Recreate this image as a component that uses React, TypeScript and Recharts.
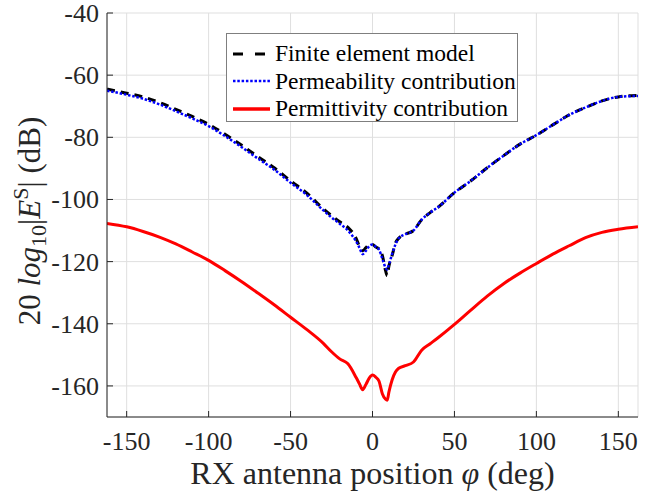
import { LineChart, Line, XAxis, YAxis, CartesianGrid, Legend, Label } from 'recharts';

// RX angle (deg)
const phi = [-162, -150, -140, -130, -120, -110, -100, -90, -80, -70, -60, -50, -40, -30, -25, -20, -15, -10, -8, -6, -4, -2, 0, 2, 4, 6, 8, 9, 10, 12, 14, 16, 20, 25, 30, 35, 40, 50, 60, 70, 80, 90, 100, 110, 120, 130, 140, 150, 162];

const femModel = [-64.5, -65.8, -67.0, -68.8, -71.0, -73.3, -75.8, -79.0, -82.5, -86.2, -89.8, -94.0, -98.0, -103.0, -105.2, -107.2, -109.0, -112.5, -115.0, -116.5, -115.5, -114.5, -114.5, -115.3, -116.0, -118.0, -123.0, -124.5, -121.5, -118.0, -114.0, -112.5, -111.2, -110.0, -106.5, -104.3, -102.5, -97.8, -94.0, -89.8, -85.9, -82.2, -79.3, -76.0, -72.8, -70.4, -68.3, -67.0, -66.5];

const permeability = [-65.0, -66.3, -67.6, -69.4, -71.6, -73.9, -76.4, -79.6, -83.1, -86.8, -90.4, -94.6, -98.6, -103.5, -105.8, -107.8, -110.0, -113.5, -115.5, -117.6, -116.5, -115.0, -114.5, -115.2, -116.2, -119.0, -122.0, -122.5, -121.0, -117.5, -114.5, -112.5, -111.2, -110.0, -106.5, -104.3, -102.5, -97.8, -94.0, -89.8, -85.9, -82.2, -79.3, -76.0, -72.8, -70.4, -68.3, -67.0, -66.7];

const permittivity = [-107.7, -108.8, -110.3, -112.1, -114.3, -116.9, -119.6, -122.9, -126.4, -130.1, -133.9, -137.9, -141.9, -146.3, -149.0, -151.3, -152.9, -157.3, -159.3, -161.2, -159.5, -157.5, -156.5, -157.2, -158.5, -162.5, -164.3, -164.6, -162.0, -158.0, -155.5, -154.3, -153.5, -152.3, -148.5, -146.5, -144.5, -140.2, -135.6, -131.1, -127.1, -123.7, -120.6, -117.6, -114.9, -112.3, -110.6, -109.6, -108.8];

const xTicks = [-150, -100, -50, 0, 50, 100, 150];
const yTicks = [-160, -140, -120, -100, -80, -60, -40];

const seriesNames = ['Finite element model', 'Permeability contribution', 'Permittivity contribution'];

const data = phi.map((p, i) => ({
  phi: p,
  fem: femModel[i],
  mu: permeability[i],
  eps: permittivity[i],
}));

const FONT = '"Liberation Serif", "Times New Roman", serif';
const AXIS = '#262626';

// tick labels drawn by hand so font and size are applied for sure
const XTick = ({ x, y, payload }: any) => (
  <text x={x} y={y} dy={19} textAnchor="middle" fill={AXIS} fontSize={26} fontFamily={FONT}>
    {payload.value}
  </text>
);

const YTick = ({ x, y, payload }: any) => (
  <text x={x} y={y} dy={9} textAnchor="end" fill={AXIS} fontSize={26} fontFamily={FONT}>
    {payload.value}
  </text>
);

function LegendBox() {
  const samples = [
    { stroke: '#000000', dash: '10 12', width: 3 },
    { stroke: '#0000ff', dash: '2.5 1.8', width: 2.5 },
    { stroke: '#ff0000', dash: undefined, width: 3.5 },
  ];
  return (
    <div style={legendStyles}>
      {seriesNames.map((name, i) => (
        <div key={name} style={{ display: 'flex', alignItems: 'center', height: 27.5 }}>
          <svg width={42} height={10} style={{ marginRight: 4 }}>
            <line x1={4} x2={41} y1={5} y2={5} stroke={samples[i].stroke} strokeWidth={samples[i].width} strokeDasharray={samples[i].dash} />
          </svg>
          <span>{name}</span>
        </div>
      ))}
    </div>
  );
}

export default function App() {
  return (
    <div style={{ position: 'absolute', left: 0, top: 0, background: '#fff' }}>
      <LineChart width={651} height={491} data={data} margin={{ top: 13, right: 13, left: 0, bottom: 0 }}>
        <CartesianGrid stroke="#dfdfdf" strokeWidth={1} />
        <XAxis
          dataKey="phi"
          type="number"
          domain={[-162, 162]}
          ticks={xTicks}
          allowDataOverflow
          height={74}
          stroke={AXIS}
          tickSize={-6}
          tickMargin={20}
          tick={XTick}
        >
          <Label
            content={({ viewBox }: any) => (
              <text x={viewBox.x + viewBox.width / 2} y={484} textAnchor="middle" fill={AXIS} fontSize={32} fontFamily={FONT}>
                RX antenna position <tspan fontStyle="italic">φ</tspan> (deg)
              </text>
            )}
          />
        </XAxis>
        <XAxis xAxisId="top" orientation="top" dataKey="phi" type="number" domain={[-162, 162]} ticks={xTicks} allowDataOverflow height={0} stroke={AXIS} tickSize={-6} tickFormatter={() => ''} />
        <YAxis
          type="number"
          domain={[-170, -40]}
          ticks={yTicks}
          allowDataOverflow
          width={107}
          stroke={AXIS}
          tickSize={-6}
          tickMargin={14}
          tick={YTick}
        >
          <Label
            content={() => {
              const cx = 40;
              const cy = 221;
              return (
                <text x={cx} y={cy} transform={`rotate(-90 ${cx} ${cy})`} textAnchor="middle" fill={AXIS} fontSize={31} fontFamily={FONT}>
                  20 <tspan fontStyle="italic">log</tspan>
                  <tspan fontSize={22} dy={6}>10</tspan>
                  <tspan dy={-6}>|</tspan>
                  <tspan fontStyle="italic">E</tspan>
                  <tspan fontSize={22} dy={-12}>S</tspan>
                  <tspan dy={12}>| (dB)</tspan>
                </text>
              );
            }}
          />
        </YAxis>
        <YAxis yAxisId="right" orientation="right" type="number" domain={[-170, -40]} ticks={yTicks} allowDataOverflow width={0} stroke={AXIS} tickSize={-6} tickFormatter={() => ''} />
        <Legend layout="vertical" align="center" verticalAlign="middle" wrapperStyle={{ left: 226, top: 33, width: 'auto' }} content={() => <LegendBox />} />
        <Line type="monotone" dataKey="fem" name={seriesNames[0]} stroke="#000000" strokeWidth={3} strokeDasharray="8 6" dot={false} isAnimationActive={false} />
        <Line type="monotone" dataKey="mu" name={seriesNames[1]} stroke="#0000ff" strokeWidth={2.5} strokeDasharray="2.5 1.8" dot={false} isAnimationActive={false} />
        <Line type="monotone" dataKey="eps" name={seriesNames[2]} stroke="#ff0000" strokeWidth={3} dot={false} isAnimationActive={false} />
      </LineChart>
    </div>
  );
}

const legendStyles: React.CSSProperties = {
  boxSizing: 'border-box',
  width: 292,
  height: 89,
  padding: '6px 0 0 2px',
  background: '#ffffff',
  border: '1.5px solid #7f7f7f',
  fontFamily: FONT,
  fontSize: 23.5,
  color: '#000',
  lineHeight: 1,
};
